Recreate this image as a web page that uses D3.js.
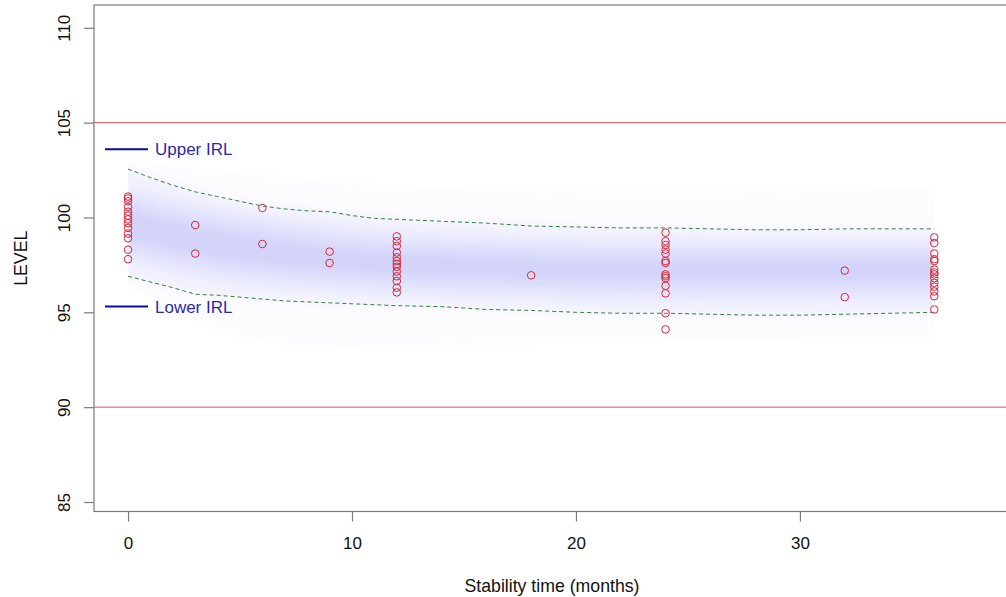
<!DOCTYPE html>
<html lang="en">
  <head>
    <meta charset="UTF-8" />
    <script src="https://d3js.org/d3.v7.min.js"></script>
    <title>Stability simulation</title>
    <style>
      body { margin: 0; background: #fff; }
      text { font-family: Arial, "Liberation Sans", sans-serif; }
    </style>
  </head>
  <body>
  </body>
</html>
<script>
const width = 1006;
const height = 597;

// observed stability results (month, level)
const obsMonth = [
  0,0,0,0,0,0,0,0,0,0,0,0,0,
  3,3, 6,6, 9,9,
  12,12,12,12,12,12,12,12,12,12,12,12,12,
  18,
  24,24,24,24,24,24,24,24,24,24,24,24,24,24,
  32,32,
  36,36,36,36,36,36,36,36,36,36,36,36,36,36
]
const obsLevel = [
  101.1,101.0,100.85,100.55,100.3,100.1,99.9,99.7,99.45,99.15,98.9,98.3,97.8,
  99.6,98.1, 100.5,98.6, 98.2,97.6,
  99.0,98.75,98.5,98.15,97.9,97.7,97.55,97.4,97.15,96.9,96.65,96.3,96.05,
  96.95,
  99.2,98.75,98.55,98.3,98.1,97.7,97.6,97.0,96.9,96.8,96.4,96.0,94.95,94.1,
  97.2,95.8,
  98.95,98.65,98.1,97.8,97.7,97.25,97.1,97.0,96.8,96.55,96.35,96.1,95.85,95.15
]

// green dashed prediction limits
const limitMonths = [0,1,2,3,4,5,6,7,8,9,10,11,12,14,16,18,20,22,24,26,28,30,32,34,36]
const limitUpper = [102.55,102.1,101.7,101.35,101.1,100.85,100.6,100.45,100.35,100.3,100.1,99.95,99.9,99.8,99.7,99.55,99.5,99.45,99.45,99.4,99.35,99.35,99.4,99.4,99.4]
const limitLower = [96.9,96.6,96.3,95.95,95.9,95.8,95.7,95.6,95.55,95.5,95.45,95.4,95.35,95.3,95.15,95.1,95.0,94.95,94.95,94.9,94.85,94.85,94.9,94.95,95.0]

// spread of the simulated trajectories (outer to inner)
const bandMonths = [0,3,6,9,12,18,24,30,36]
const bandOuterHi = [102.8,102.4,102.0,101.7,101.4,101.2,101.1,101.2,101.4]
const bandOuterLo = [96.6,94.5,93.6,93.3,93.4,93.6,93.7,93.8,93.8]
const bandWideHi = [102.5,101.35,100.6,100.3,99.9,99.55,99.45,99.35,99.4]
const bandWideLo = [96.9,95.95,95.7,95.5,95.35,95.1,94.95,94.85,95.0]
const bandMidHi = [101.4,100.5,99.9,99.4,99.0,98.7,98.6,98.6,98.6]
const bandMidLo = [97.9,97.0,96.6,96.3,96.1,95.9,95.8,95.8,95.8]
const bandCoreHi = [100.6,99.7,99.1,98.6,98.3,98.0,97.9,97.9,97.9]
const bandCoreLo = [98.7,97.8,97.3,97.0,96.8,96.6,96.5,96.5,96.5]

// specification limits and IRL labels
const specLimits = [105, 90]
const irlLabels = ["Upper IRL", "Lower IRL"]
const irlLevels = [103.6, 95.3]

const xTicks = [0, 10, 20, 30]
const yTicks = [85, 90, 95, 100, 105, 110]

const plotL = 94, plotR = 1010, plotT = 5, plotB = 511.5

let xScale = d3.scaleLinear().domain([-1.52, 39.38]).range([plotL, plotR])
let yScale = d3.scaleLinear().domain([84.5, 111.2]).range([plotB, plotT])

let svg = d3.select("body").append("svg")
  .attr("width", width)
  .attr("height", height)

let defs = svg.append("defs")
defs.append("filter")
  .attr("id", "soft")
  .attr("x", "-5%").attr("y", "-20%").attr("width", "110%").attr("height", "140%")
  .append("feGaussianBlur")
  .attr("stdDeviation", "1.5 5")
defs.append("clipPath")
  .attr("id", "simclip")
  .append("rect")
  .attr("x", xScale(0)).attr("y", plotT)
  .attr("width", xScale(36) - xScale(0)).attr("height", plotB - plotT)

// simulated band
let gBand = svg.append("g").attr("clip-path", "url(#simclip)")
  .append("g").attr("filter", "url(#soft)")
function band(hi, lo, op) {
  let area = d3.area()
    .x((d, i) => xScale(bandMonths[i]))
    .y0((d, i) => yScale(lo[i]))
    .y1((d, i) => yScale(hi[i]))
    .curve(d3.curveBasis)
  gBand.append("path")
    .datum(hi)
    .attr("d", area)
    .attr("fill", "#4646ee")
    .attr("fill-opacity", op)
}
band(bandOuterHi, bandOuterLo, 0.025)
band(bandWideHi, bandWideLo, 0.06)
band(bandMidHi, bandMidLo, 0.08)
band(bandCoreHi, bandCoreLo, 0.09)

// spec limits
svg.selectAll(".spec")
  .data(specLimits)
  .enter()
  .append("line")
  .attr("class", "spec")
  .attr("x1", plotL)
  .attr("x2", plotR)
  .attr("y1", d => yScale(d))
  .attr("y2", d => yScale(d))
  .attr("stroke", "#dd5555")
  .attr("stroke-width", 1)

// dashed limits
let limLine = arr => d3.line()
  .x((d, i) => xScale(limitMonths[i]))
  .y((d, i) => yScale(arr[i]))
;[limitUpper, limitLower].forEach(arr => {
  svg.append("path")
    .datum(arr)
    .attr("d", limLine(arr))
    .attr("fill", "none")
    .attr("stroke", "#3a7f3a")
    .attr("stroke-width", 1)
    .attr("stroke-dasharray", "4,3")
})

// observed points
svg.selectAll(".obs")
  .data(obsLevel)
  .enter()
  .append("circle")
  .attr("class", "obs")
  .attr("cx", (d, i) => xScale(obsMonth[i]))
  .attr("cy", d => yScale(d))
  .attr("r", 3.8)
  .attr("fill", "none")
  .attr("stroke", "#d42a3a")
  .attr("stroke-width", 1)

// IRL annotations
irlLabels.forEach((lab, i) => {
  svg.append("line")
    .attr("x1", xScale(-1.03))
    .attr("x2", xScale(0.89))
    .attr("y1", yScale(irlLevels[i]))
    .attr("y2", yScale(irlLevels[i]))
    .attr("stroke", "#0a0aa8")
    .attr("stroke-width", 2)
  svg.append("text")
    .attr("x", xScale(0.89) + 7)
    .attr("y", yScale(irlLevels[i]))
    .attr("dy", "0.36em")
    .attr("font-size", "17px")
    .attr("fill", "#2a2aa6")
    .text(lab)
})

// box
svg.append("rect")
  .attr("x", plotL)
  .attr("y", plotT)
  .attr("width", plotR - plotL)
  .attr("height", plotB - plotT)
  .attr("fill", "none")
  .attr("stroke", "#7a7a7a")
  .attr("stroke-width", 1.2)

// x axis
let xAxis = d3.axisBottom(xScale).tickValues(xTicks).tickSize(10).tickPadding(15).tickFormat(d3.format("d"))
let gx = svg.append("g")
  .attr("transform", "translate(0," + plotB + ")")
  .call(xAxis)
gx.select(".domain").remove()
gx.selectAll("line").attr("stroke", "#7a7a7a").attr("stroke-width", 1.2)
gx.selectAll("text").attr("font-size", "17px").attr("fill", "#111")

// y axis
let yAxis = d3.axisLeft(yScale).tickValues(yTicks).tickSize(10).tickFormat(d3.format("d"))
let gy = svg.append("g")
  .attr("transform", "translate(" + plotL + ",0)")
  .call(yAxis)
gy.select(".domain").remove()
gy.selectAll("line").attr("stroke", "#7a7a7a").attr("stroke-width", 1.2)
gy.selectAll("text")
  .attr("font-size", "17px")
  .attr("fill", "#111")
  .attr("x", 0)
  .attr("dy", 0)
  .attr("text-anchor", "middle")
  .attr("transform", "translate(-24,0) rotate(-90)")

// titles
svg.append("text")
  .attr("x", (plotL + plotR) / 2)
  .attr("y", 592)
  .attr("text-anchor", "middle")
  .attr("font-size", "17.7px")
  .attr("fill", "#111")
  .text("Stability time (months)")

svg.append("text")
  .attr("transform", "translate(27," + (plotT + plotB) / 2 + ") rotate(-90)")
  .attr("text-anchor", "middle")
  .attr("font-size", "17.7px")
  .attr("fill", "#111")
  .text("LEVEL")
</script>
